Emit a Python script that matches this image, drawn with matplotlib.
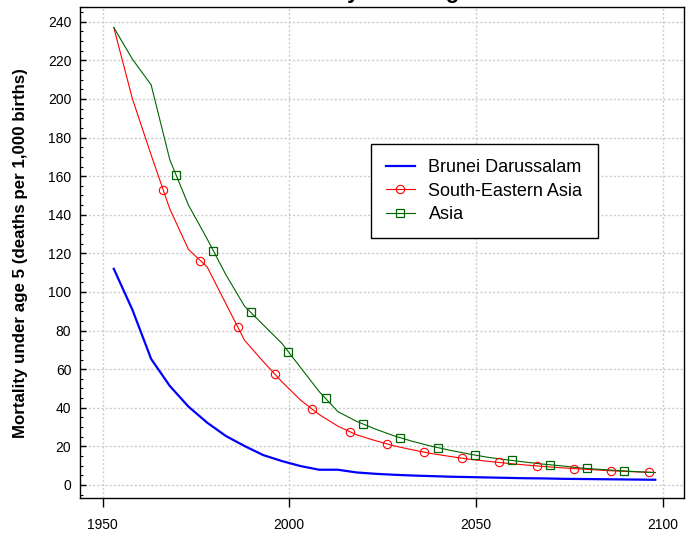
import matplotlib
matplotlib.use('Agg')
import matplotlib.pyplot as plt
import numpy as np
from matplotlib.lines import Line2D
from matplotlib.ticker import MultipleLocator

plt.rcParams['font.family'] = ['Liberation Sans', 'DejaVu Sans']

# ---- data ----
years = [1953, 1958, 1963, 1968, 1973, 1978, 1983, 1988, 1993, 1998,
         2003, 2008, 2013, 2018, 2023, 2028, 2033, 2038, 2043, 2048,
         2053, 2058, 2063, 2068, 2073, 2078, 2083, 2088, 2093, 2098]

brunei = [112, 90.7, 65.3, 51.3, 40.6, 32.3, 25.4, 20.2, 15.5, 12.4,
          9.8, 7.9, 7.9, 6.5, 5.8, 5.3, 4.9, 4.6, 4.3, 4.1,
          3.9, 3.7, 3.5, 3.4, 3.2, 3.1, 3.0, 2.9, 2.8, 2.7]

south_eastern_asia = [237, 200, 171, 143, 122, 113, 94, 75, 64, 53.5,
                      44, 36.5, 30.5, 26, 23, 20.3, 18.2, 16.3, 14.8, 13.4,
                      12.3, 11.3, 10.4, 9.6, 8.9, 8.3, 7.7, 7.2, 6.8, 6.5]

asia = [237, 220.6, 207.3, 168.5, 145, 127.5, 109, 92.7, 83, 73.4,
        60.9, 48.4, 38, 33, 29, 25.5, 22.6, 20.1, 18, 16.1,
        14.4, 13.1, 11.9, 10.8, 9.9, 8.8, 8.1, 7.5, 6.9, 6.4]

series_names = ["Brunei Darussalam", "South-Eastern Asia", "Asia"]

# marker positions along the lines (years)
sea_marker_years = [1966.2, 1976.2, 1986.2, 1996.2, 2006.2, 2016.2, 2026.2,
                    2036.2, 2046.2, 2056.2, 2066.2, 2076.2, 2086.2, 2096.2]
asia_marker_years = [1969.7, 1979.7, 1989.7, 1999.7, 2009.7, 2019.7, 2029.7,
                     2039.7, 2049.7, 2059.7, 2069.7, 2079.7, 2089.7]

x_ticks = [1950, 2000, 2050, 2100]

# ---- figure ----
W, H = 697, 535
fig = plt.figure(figsize=(W / 100, H / 100), dpi=100)
ax_l, ax_r, ax_t, ax_b = 80.3, 684.0, 7.3, 498.3
ax = fig.add_axes([ax_l / W, (H - ax_b) / H, (ax_r - ax_l) / W, (ax_b - ax_t) / H])

blue = '#0000FF'
red = '#FF0000'
green = '#006400'

ax.plot(years, brunei, color=blue, lw=1.6, zorder=3)
ax.plot(years, south_eastern_asia, color=red, lw=0.8, zorder=3)
ax.plot(sea_marker_years, np.interp(sea_marker_years, years, south_eastern_asia),
        linestyle='none', marker='o', mfc='none', mec=red, ms=6.0, mew=0.8, zorder=4)
ax.plot(years, asia, color=green, lw=0.8, zorder=3)
ax.plot(asia_marker_years, np.interp(asia_marker_years, years, asia),
        linestyle='none', marker='s', mfc='none', mec=green, ms=6.0, mew=0.9, zorder=4)

ax.set_xlim(1944.03, 2105.7)
ax.set_ylim(-6.9, 247.5)
ax.set_xticks(x_ticks)
ax.yaxis.set_major_locator(MultipleLocator(20))
ax.yaxis.set_minor_locator(MultipleLocator(5))

ax.grid(True, which='major', color='#cccccc', linestyle=(0, (1.5, 1.5)), linewidth=1.0, zorder=0)
ax.set_axisbelow(True)

ax.tick_params(axis='y', which='major', direction='in', length=4.5, width=1, pad=6.5, labelsize=10)
ax.tick_params(axis='y', which='minor', direction='in', length=2.2, width=0.8)
ax.tick_params(axis='x', which='major', direction='out', length=6.5, width=1, pad=8, labelsize=10)
for s in ax.spines.values():
    s.set_linewidth(1.0)
    s.set_color('black')

fig.text(20.5 / W, (H - (ax_t + ax_b) / 2) / H,
         'Mortality under age 5 (deaths per 1,000 births)',
         rotation=90, ha='center', va='center', fontsize=12.2, fontweight='bold')

fig.text(379 / W, 1.003, 'Mortality under age 5', ha='center', va='baseline',
         fontsize=16, fontweight='bold')

handles = [
    Line2D([], [], color=blue, lw=1.6),
    Line2D([], [], color=red, lw=0.8, marker='o', mfc='none', mec=red, ms=6.0, mew=0.8),
    Line2D([], [], color=green, lw=0.8, marker='s', mfc='none', mec=green, ms=6.0, mew=0.9),
]
bx = (370.7 - ax_l) / (ax_r - ax_l)
by = (ax_b - 144) / (ax_b - ax_t)
leg = ax.legend(handles, series_names, loc='upper left', bbox_to_anchor=(bx, by),
                borderaxespad=0, fontsize=13, frameon=True, fancybox=False,
                edgecolor='black', framealpha=1, handlelength=1.6,
                handletextpad=0.75, borderpad=0.85, labelspacing=0.35)
leg.get_frame().set_linewidth(1.0)

fig.savefig('out.png', dpi=100)
